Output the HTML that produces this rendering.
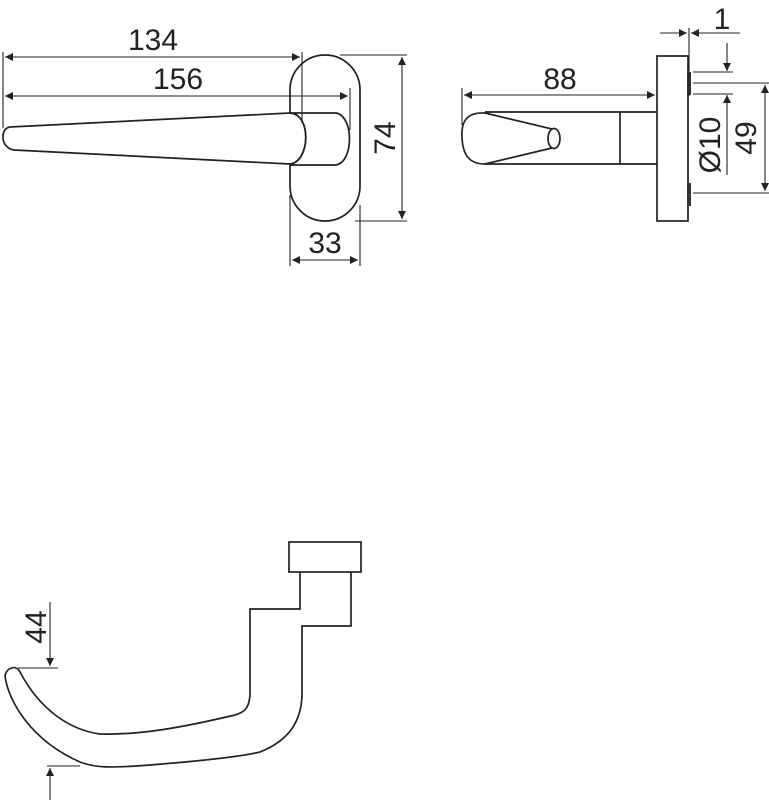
<!DOCTYPE html>
<html><head><meta charset="utf-8"><style>html,body{margin:0;padding:0;background:#fff}svg{display:block}</style></head>
<body>
<svg width="769" height="800" viewBox="0 0 769 800" xmlns="http://www.w3.org/2000/svg">
<defs>
<marker id="a" viewBox="0 0 10 10" refX="10" refY="5" markerWidth="14" markerHeight="8" markerUnits="userSpaceOnUse" orient="auto-start-reverse"><path d="M0,0L10,5L0,10z" fill="#222"/></marker>
</defs>
<g fill="none" stroke="#222" stroke-width="1.7">
<rect x="290" y="55" width="70" height="166" rx="35" ry="35" fill="#fff"/>
<path d="M10,127 L290,113 C312,114 310,162 290,164 L14,150 C0,148 0,128 10,127 Z" fill="#fff"/>
<path d="M290,113 L336,113 C354,116 354,162 336,165 L290,165"/>
<path d="M290,113 C312,114 310,162 290,164"/>
</g>
<g fill="none" stroke="#222" stroke-width="1.1">
<line x1="3" y1="52" x2="3" y2="128"/>
<line x1="302" y1="52" x2="302" y2="123"/>
<line x1="350" y1="88" x2="350" y2="130"/>
<line x1="5" y1="57" x2="300" y2="57" marker-start="url(#a)" marker-end="url(#a)"/>
<line x1="5" y1="96" x2="348" y2="96" marker-start="url(#a)" marker-end="url(#a)"/>
<line x1="340" y1="55" x2="407" y2="55"/>
<line x1="355" y1="221" x2="407" y2="221"/>
<line x1="402" y1="57" x2="402" y2="219" marker-start="url(#a)" marker-end="url(#a)"/>
<line x1="290" y1="195" x2="290" y2="266"/>
<line x1="360" y1="205" x2="360" y2="266"/>
<line x1="292" y1="260" x2="358" y2="260" marker-start="url(#a)" marker-end="url(#a)"/>
</g>
<g fill="none" stroke="#222" stroke-width="1.7">
<rect x="657" y="56" width="31" height="165" fill="#fff"/>
<path d="M620,112 L620,164 M485,112 L657,112 M485,164 L657,164"/>
<path d="M485,113 C466,112 461,122 462,138 C463,156 470,164 485,164"/>
<path d="M485,113 L552,129 M485,164 L552,148"/>
<ellipse cx="554" cy="138.5" rx="6" ry="10"/>
</g>
<rect x="687" y="72" width="4" height="23" fill="#333"/>
<rect x="687" y="183" width="4" height="23" fill="#333"/>
<g fill="none" stroke="#222" stroke-width="1.1">
<line x1="462" y1="88" x2="462" y2="125"/>
<line x1="464" y1="95" x2="655" y2="95" marker-start="url(#a)" marker-end="url(#a)"/>
<line x1="689" y1="28" x2="689" y2="96"/>
<line x1="660" y1="33" x2="687" y2="33" marker-end="url(#a)"/>
<line x1="740" y1="33" x2="691" y2="33" marker-end="url(#a)"/>
<line x1="693" y1="72" x2="733" y2="72"/>
<line x1="693" y1="83" x2="770" y2="83"/>
<line x1="693" y1="94" x2="733" y2="94"/>
<line x1="693" y1="193" x2="770" y2="193"/>
<line x1="727" y1="43" x2="727" y2="71" marker-end="url(#a)"/>
<line x1="727" y1="175" x2="727" y2="95" marker-end="url(#a)"/>
<line x1="765" y1="85" x2="765" y2="191" marker-start="url(#a)" marker-end="url(#a)"/>
</g>
<g fill="none" stroke="#222" stroke-width="1.7">
<rect x="289" y="542" width="72" height="30"/>
<path d="M300,572 L300,609 L250,609 L250,695 C249,708 245,712 235,715 C180,728 140,735 100,734 C70,730 40,710 20,672 C16,664 6,668 5,676 C8,700 30,740 80,762 C95,768 110,768 150,765 C200,761 240,757 260,752 C290,740 302,720 302,693 L302,626 L351,626 L351,572"/>
</g>
<g fill="none" stroke="#222" stroke-width="1.1">
<line x1="18" y1="668" x2="58" y2="668"/>
<line x1="50" y1="602" x2="50" y2="666" marker-end="url(#a)"/>
<line x1="47" y1="766" x2="80" y2="766"/>
<line x1="50" y1="800" x2="50" y2="768" marker-end="url(#a)"/>
</g>
<g font-family="'Liberation Sans', 'DejaVu Sans', sans-serif" font-size="30" fill="#222" text-anchor="middle">
<text x="153" y="50">134</text>
<text x="178" y="89">156</text>
<text x="325" y="253">33</text>
<text x="560" y="89">88</text>
<text x="722" y="29">1</text>
<text transform="translate(395,138) rotate(-90)">74</text>
<text transform="translate(720,145) rotate(-90)">Ø10</text>
<text transform="translate(756,138) rotate(-90)">49</text>
<text transform="translate(46,627) rotate(-90)">44</text>
</g>
</svg>
</body></html>
